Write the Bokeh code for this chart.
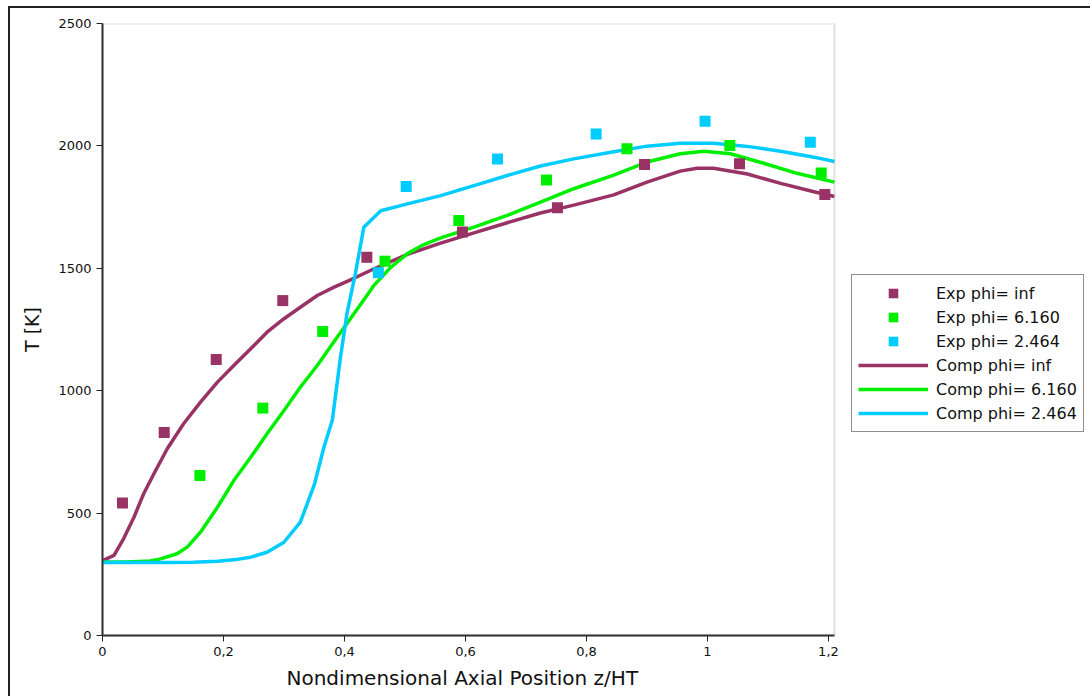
from bokeh.plotting import figure
from bokeh.models import FixedTicker, Legend, LegendItem, Range1d, BoxAnnotation, Title
from bokeh.embed import file_html
from bokeh.resources import INLINE

# ---- data ----
exp_inf_x = [0.033, 0.102, 0.188, 0.298, 0.437, 0.595, 0.752, 0.896, 1.053, 1.194]
exp_inf_y = [541, 829, 1127, 1368, 1545, 1648, 1747, 1924, 1927, 1801]
exp_616_x = [0.161, 0.265, 0.364, 0.467, 0.589, 0.734, 0.867, 1.037, 1.188]
exp_616_y = [654, 929, 1242, 1529, 1695, 1861, 1988, 2002, 1889]
exp_246_x = [0.456, 0.502, 0.653, 0.816, 0.996, 1.170]
exp_246_y = [1482, 1834, 1946, 2049, 2101, 2015]

comp_inf_x = [0.0, 0.019, 0.035, 0.052, 0.068, 0.085, 0.107, 0.134, 0.162, 0.190, 0.217,
              0.245, 0.272, 0.300, 0.327, 0.355, 0.382, 0.410, 0.448, 0.504, 0.559, 0.614,
              0.669, 0.724, 0.779, 0.845, 0.900, 0.955, 0.983, 1.010, 1.066, 1.121, 1.176, 1.21]
comp_inf_y = [306, 327, 396, 483, 579, 661, 763, 865, 953, 1035, 1103,
              1171, 1239, 1294, 1341, 1389, 1422, 1453, 1497, 1557, 1603, 1645,
              1686, 1726, 1758, 1800, 1852, 1897, 1909, 1909, 1885, 1847, 1813, 1793]

comp_616_x = [0.0, 0.04, 0.079, 0.096, 0.123, 0.140, 0.162, 0.190, 0.217, 0.245, 0.272,
              0.300, 0.327, 0.355, 0.382, 0.410, 0.433, 0.448, 0.476, 0.504, 0.531, 0.559,
              0.614, 0.669, 0.724, 0.779, 0.845, 0.900, 0.955, 0.994, 1.038, 1.093, 1.148, 1.21]
comp_616_y = [300, 300, 304, 313, 334, 361, 422, 524, 633, 728, 824,
              919, 1014, 1103, 1198, 1295, 1375, 1428, 1503, 1560, 1597, 1624,
              1668, 1716, 1770, 1825, 1881, 1934, 1968, 1978, 1968, 1929, 1888, 1852]

comp_246_x = [0.0, 0.1, 0.15, 0.19, 0.217, 0.245, 0.272, 0.300, 0.327, 0.350, 0.366,
              0.380, 0.393, 0.404, 0.418, 0.432, 0.460, 0.504, 0.559, 0.614, 0.669, 0.724,
              0.779, 0.845, 0.900, 0.955, 1.010, 1.066, 1.121, 1.176, 1.21]
comp_246_y = [298, 298, 299, 303, 309, 320, 340, 381, 463, 615, 769,
              880, 1130, 1314, 1478, 1668, 1735, 1763, 1797, 1838, 1879, 1918,
              1947, 1976, 1999, 2011, 2011, 1998, 1978, 1954, 1936]

x_ticks = [0, 0.2, 0.4, 0.6, 0.8, 1.0, 1.2]
x_tick_labels = ["0", "0,2", "0,4", "0,6", "0,8", "1", "1,2"]
y_ticks = [0, 500, 1000, 1500, 2000, 2500]
X_MAX = 1.21
Y_MAX = 2500

C_INF = "#993366"
C_616 = "#00ee00"
C_246 = "#00ccff"
FONT = "DejaVu Sans"

# frame spans to the right edge so the legend (drawn in the frame) is not clipped;
# the visible axes box is limited to [0, X_MAX]
FRAME_W = 990
X_VIEW = X_MAX * FRAME_W / 732.0

p = figure(width=1082, height=690, output_backend="svg", toolbar_location=None,
           x_range=Range1d(0, X_VIEW), y_range=Range1d(0, Y_MAX),
           min_border_left=92, min_border_top=15, min_border_right=0, min_border_bottom=63)
p.margin = (6, 0, 0, 8)
p.styles = {"border-top": "2px solid #222", "border-left": "2px solid #222"}

p.grid.visible = False
p.outline_line_color = None

p.add_layout(BoxAnnotation(left=0, right=X_MAX, bottom=0, top=Y_MAX,
                           fill_color=None, line_color="#999999", line_width=2))

r_ci = p.line(comp_inf_x, comp_inf_y, line_color=C_INF, line_width=3.5, line_join="round")
r_c6 = p.line(comp_616_x, comp_616_y, line_color=C_616, line_width=3.5, line_join="round")
r_c2 = p.line(comp_246_x, comp_246_y, line_color=C_246, line_width=3.5, line_join="round")
r_ei = p.scatter(exp_inf_x, exp_inf_y, marker="square", size=11, fill_color=C_INF, line_color=None)
r_e6 = p.scatter(exp_616_x, exp_616_y, marker="square", size=11, fill_color=C_616, line_color=None)
r_e2 = p.scatter(exp_246_x, exp_246_y, marker="square", size=11, fill_color=C_246, line_color=None)

for ax in (p.xaxis[0], p.yaxis[0]):
    ax.axis_line_color = "#222222"
    ax.axis_line_width = 2
    ax.major_tick_line_color = "#222222"
    ax.major_tick_in = 0
    ax.major_tick_out = 6
    ax.minor_tick_line_color = None
    ax.major_label_text_font = FONT
    ax.major_label_text_font_size = "13px"
    ax.major_label_text_color = "#111111"
    ax.axis_label_text_font = FONT
    ax.axis_label_text_font_style = "normal"
    ax.axis_label_text_color = "#111111"

p.xaxis.ticker = FixedTicker(ticks=x_ticks)
p.xaxis.bounds = (0, X_MAX)
p.xaxis.major_label_overrides = {t: l for t, l in zip(x_ticks, x_tick_labels)}
p.yaxis.ticker = FixedTicker(ticks=y_ticks)
p.yaxis.axis_label = "T [K]"
p.yaxis.axis_label_text_font_size = "19px"
p.yaxis.axis_label_standoff = 12

xlabel = Title(text="Nondimensional Axial Position z/HT", align="left", offset=184,
               text_font=FONT, text_font_size="20px", text_font_style="normal",
               text_color="#111111", standoff=11)
p.add_layout(xlabel, "below")

legend = Legend(items=[
    LegendItem(label="Exp phi= inf", renderers=[r_ei]),
    LegendItem(label="Exp phi= 6.160", renderers=[r_e6]),
    LegendItem(label="Exp phi= 2.464", renderers=[r_e2]),
    LegendItem(label="Comp phi= inf", renderers=[r_ci]),
    LegendItem(label="Comp phi= 6.160", renderers=[r_c6]),
    LegendItem(label="Comp phi= 2.464", renderers=[r_c2]),
], location=(749, 203))
legend.border_line_color = "#222222"
legend.border_line_width = 1
legend.padding = 6
legend.spacing = 0
legend.margin = 0
legend.glyph_width = 70
legend.glyph_height = 24
legend.label_height = 24
legend.label_standoff = 8
legend.label_text_font = FONT
legend.label_text_font_size = "16px"
legend.label_text_color = "#111111"
p.add_layout(legend, "center")

open("out.html", "w").write(file_html(p, INLINE))
